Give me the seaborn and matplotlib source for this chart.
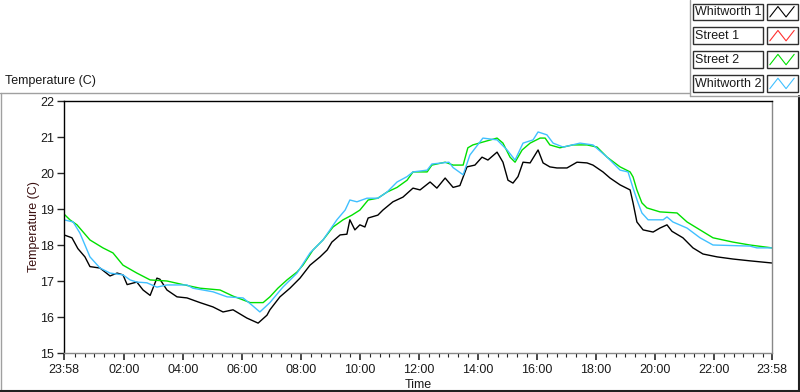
"""LabVIEW-style temperature chart, four sensors over one day."""

import numpy as np
import pandas as pd
import matplotlib
matplotlib.use("Agg")
import matplotlib.pyplot as plt
from matplotlib.lines import Line2D
from matplotlib.patches import Rectangle
import seaborn as sns

# hours since 23:58
w1_hours = [0, 0.27, 0.47, 0.71, 0.88, 1.22, 1.56, 1.80, 2.0, 2.14, 2.47, 2.68, 2.92, 3.15, 3.25,
            3.49, 3.83, 4.17, 4.61, 5.05, 5.39, 5.73, 6.2, 6.58, 6.88, 6.98, 7.32, 7.66, 8.0,
            8.34, 8.68, 8.92, 9.08, 9.36, 9.59, 9.69, 9.86, 10.03, 10.2, 10.31, 10.64, 10.81,
            11.15, 11.49, 11.83, 12.07, 12.41, 12.64, 12.92, 13.19, 13.42, 13.66, 13.93, 14.17,
            14.37, 14.68, 14.88, 15.05, 15.22, 15.39, 15.56, 15.8, 16.07, 16.24, 16.47, 16.71,
            17.05, 17.39, 17.73, 17.93, 18.27, 18.51, 18.85, 19.19, 19.29, 19.42, 19.63, 19.97,
            20.2, 20.44, 20.61, 20.98, 21.32, 21.66, 22.14, 22.68, 23.25, 24.0]
w1_temp = [18.28, 18.2, 17.9, 17.67, 17.4, 17.36, 17.14, 17.22, 17.17, 16.9, 16.97, 16.75, 16.6,
           17.08, 17.05, 16.75, 16.56, 16.53, 16.4, 16.28, 16.14, 16.2, 15.97, 15.83, 16.05, 16.2,
           16.56, 16.8, 17.08, 17.44, 17.67, 17.86, 18.08, 18.28, 18.3, 18.7, 18.42, 18.56, 18.5,
           18.75, 18.83, 18.97, 19.2, 19.33, 19.58, 19.53, 19.75, 19.58, 19.86, 19.6, 19.65,
           20.17, 20.22, 20.44, 20.36, 20.58, 20.3, 19.8, 19.72, 19.9, 20.3, 20.28, 20.64, 20.28,
           20.17, 20.14, 20.14, 20.3, 20.28, 20.22, 20.03, 19.86, 19.67, 19.53, 19.17, 18.64,
           18.42, 18.36, 18.47, 18.56, 18.38, 18.2, 17.92, 17.75, 17.67, 17.61, 17.56, 17.5]

s1_hours = []
s1_temp = []

s2_hours = [0, 0.2, 0.44, 0.88, 1.32, 1.66, 2.0, 2.47, 2.92, 3.49, 4.03, 4.61, 5.29, 5.73, 6.31,
            6.75, 6.98, 7.25, 7.56, 7.9, 8.1, 8.44, 8.78, 9.12, 9.46, 9.76, 10.03, 10.31, 10.64,
            10.95, 11.29, 11.63, 11.83, 12.31, 12.47, 12.92, 13.19, 13.53, 13.69, 13.86, 14.2,
            14.68, 14.88, 15.12, 15.29, 15.53, 15.8, 16.14, 16.31, 16.47, 16.81, 17.25, 17.73,
            18.07, 18.41, 18.85, 19.19, 19.29, 19.42, 19.59, 19.76, 20.2, 20.78, 21.12, 21.56,
            22.0, 22.68, 23.25, 24.0]
s2_temp = [18.86, 18.7, 18.56, 18.14, 17.92, 17.78, 17.44, 17.22, 17.03, 17.0, 16.9, 16.8, 16.75,
           16.58, 16.4, 16.4, 16.56, 16.8, 17.03, 17.25, 17.44, 17.86, 18.14, 18.5, 18.7, 18.83,
           18.97, 19.25, 19.3, 19.47, 19.6, 19.8, 20.03, 20.03, 20.22, 20.3, 20.22, 20.22, 20.7,
           20.78, 20.86, 20.97, 20.83, 20.44, 20.3, 20.64, 20.83, 20.97, 20.97, 20.78, 20.7,
           20.78, 20.78, 20.72, 20.44, 20.17, 20.03, 19.89, 19.53, 19.17, 19.03, 18.92, 18.89,
           18.64, 18.42, 18.2, 18.08, 18.0, 17.92]

w2_hours = [0, 0.31, 0.54, 0.88, 1.22, 1.56, 2.0, 2.24, 2.47, 2.81, 3.15, 3.49, 4.17, 4.37, 5.05,
            5.53, 6.07, 6.37, 6.64, 6.98, 7.42, 7.9, 8.34, 8.78, 9.25, 9.53, 9.69, 9.93, 10.27,
            10.64, 10.95, 11.29, 11.63, 11.83, 12.31, 12.47, 13.05, 13.19, 13.53, 13.76, 14.2,
            14.68, 15.02, 15.29, 15.56, 15.9, 16.07, 16.37, 16.58, 16.92, 17.49, 17.93, 18.41,
            18.85, 19.12, 19.29, 19.46, 19.59, 19.8, 20.31, 20.44, 20.64, 21.12, 21.56, 22.0,
            23.25, 23.49, 24.0]
w2_temp = [18.7, 18.64, 18.33, 17.67, 17.36, 17.22, 17.17, 17.03, 16.97, 16.95, 16.83, 16.89,
           16.89, 16.8, 16.7, 16.56, 16.53, 16.33, 16.14, 16.4, 16.83, 17.22, 17.78, 18.14, 18.7,
           18.97, 19.25, 19.2, 19.3, 19.3, 19.47, 19.75, 19.9, 20.03, 20.08, 20.25, 20.3, 20.15,
           19.95, 20.5, 20.97, 20.92, 20.64, 20.36, 20.83, 20.92, 21.14, 21.06, 20.83, 20.72,
           20.83, 20.78, 20.44, 20.08, 20.03, 19.58, 19.17, 18.89, 18.7, 18.7, 18.78, 18.64,
           18.47, 18.2, 18.0, 17.97, 17.92, 17.92]

sensors = ["Whitworth 1", "Street 1", "Street 2", "Whitworth 2"]
colors = ["#000000", "#ff3030", "#00e000", "#40c0ff"]

x_major = [0, 2.0333, 4.0333, 6.0333, 8.0333, 10.0333, 12.0333, 14.0333, 16.0333, 18.0333,
           20.0333, 22.0333, 24]
x_labels = ["23:58", "02:00", "04:00", "06:00", "08:00", "10:00", "12:00", "14:00", "16:00",
            "18:00", "20:00", "22:00", "23:58"]
y_ticks = [15, 16, 17, 18, 19, 20, 21, 22]

frames = []
for name, h, t in [("Whitworth 1", w1_hours, w1_temp), ("Street 1", s1_hours, s1_temp),
                   ("Street 2", s2_hours, s2_temp), ("Whitworth 2", w2_hours, w2_temp)]:
    frames.append(pd.DataFrame({"hours": h, "temp": t, "sensor": name}))
df = pd.concat(frames, ignore_index=True)
df = df[df["sensor"] != "Street 1"]

sns.set_style("white")
plt.rcParams["font.family"] = ["Liberation Sans", "DejaVu Sans"]
txt = "#1a1a1a"
fs = 9

fig = plt.figure(figsize=(8, 3.92), dpi=100)
ax = fig.add_axes([64 / 800, 1 - 353 / 392, 708 / 800, 252 / 392])

sns.lineplot(data=df, x="hours", y="temp", hue="sensor", hue_order=["Whitworth 1", "Street 2", "Whitworth 2"],
             palette=[colors[0], colors[2], colors[3]], estimator=None, sort=False,
             linewidth=1.0, legend=False, ax=ax)

ax.set_xlim(0, 24)
ax.set_ylim(15, 22)
ax.set_xticks(x_major)
ax.set_xticklabels(x_labels, fontsize=fs, color=txt)
minor = np.arange(2.0333 - 6 / 3, 24, 1 / 3)
ax.set_xticks([m for m in minor if 0 < m < 24 and min(abs(m - j) for j in x_major) > 0.05], minor=True)
ax.set_yticks(y_ticks)
ax.set_yticklabels([str(v) for v in y_ticks], fontsize=fs, color=txt)
ax.tick_params(axis="x", which="major", direction="out", length=5, width=1.2, pad=3, bottom=True)
ax.tick_params(axis="x", which="minor", direction="out", length=3, width=0.8, bottom=True)
ax.tick_params(axis="y", direction="out", length=5, width=1, pad=2, left=True)
ax.set_xlabel("Time", fontsize=fs, color=txt, labelpad=2)
ax.set_ylabel("Temperature (C)", fontsize=fs, color="#3a1010", labelpad=0)
ax.grid(False)

for side, col in [("left", "black"), ("top", "black"), ("right", "#888888"), ("bottom", "#888888")]:
    ax.spines[side].set_visible(True)
    ax.spines[side].set_color(col)
    ax.spines[side].set_linewidth(1.0)

# panel frame
W, H = 800, 392
def fline(x0, y0, x1, y1, c, lw=1.0):
    fig.add_artist(Line2D([x0 / W, x1 / W], [1 - y0 / H, 1 - y1 / H], color=c, lw=lw))

fline(0, 92.5, 690, 92.5, "#a0a0a0")
fline(1, 92.5, 1, 390, "#a0a0a0")
fline(0, 390.5, 800, 390.5, "#202020", 1.5)
fline(798.5, 95.5, 798.5, 391, "#202020", 1.5)
fline(689.5, 0, 689.5, 95.5, "#a0a0a0")
fline(689.5, 95.5, 800, 95.5, "#a0a0a0")

fig.text(5 / W, 1 - 81 / H, "Temperature (C)", fontsize=fs, color=txt, va="center", ha="left")

# legend panel
for i, (name, col) in enumerate(zip(sensors, colors)):
    top = 3.5 + i * 23.9
    fig.add_artist(Rectangle((692.5 / W, 1 - (top + 16.5) / H), 70 / W, 16.5 / H,
                             fc="white", ec="#303030", lw=1.0, transform=fig.transFigure, zorder=-1))
    fig.text(695 / W, 1 - (top + 8.5) / H, name, fontsize=fs, color=txt, va="center", ha="left")
    fig.add_artist(Rectangle((766.5 / W, 1 - (top + 16.5) / H), 31.5 / W, 16.5 / H,
                             fc="white", ec="#303030", lw=1.0, transform=fig.transFigure, zorder=-1))
    sw = fig.add_axes([769 / W, 1 - (top + 14.5) / H, 26 / W, 12.5 / H])
    sw.patch.set_alpha(0)
    sw.plot([0, 1, 2, 3], [0, 1, 0, 1], color=col, lw=0.8)
    sw.set_xlim(-0.1, 3.1)
    sw.set_ylim(-0.1, 1.1)
    sw.axis("off")

fig.savefig("out.png", dpi=100)
